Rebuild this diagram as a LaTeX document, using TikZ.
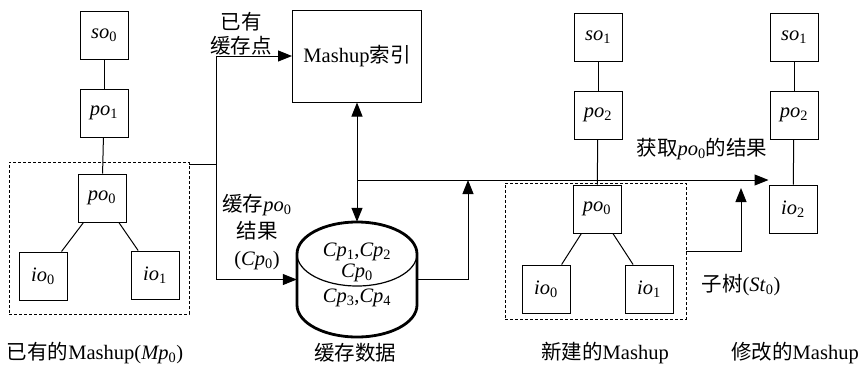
\documentclass[tikz,border=0pt]{standalone}
\usepackage{fontspec}
\setmainfont{Liberation Serif}
\newfontfamily\cjkfont{Noto Sans CJK SC}
\usetikzlibrary{arrows.meta, positioning, calc}
\newcommand{\zh}[1]{{\cjkfont #1}}
\newcommand{\pvar}[2]{\textit{#1}\textsubscript{#2}}

\begin{document}
\begin{tikzpicture}[x=1pt, y=-1pt,
  font=\fontsize{20.5}{24}\selectfont,
  obox/.style={draw, line width=1pt, minimum size=48pt, inner sep=0pt},
  group/.style={draw, dash pattern=on 3pt off 2pt, line width=0.8pt},
  arrow/.style={-{Triangle[length=14pt,width=11pt]}, line width=1pt},
  dblarrow/.style={{Triangle[length=14pt,width=11pt]}-{Triangle[length=14pt,width=11pt]}, line width=1pt},
  tree/.style={line width=1pt},
  lbl/.style={align=center, inner sep=1pt}
]
  \useasboundingbox (0,0) rectangle (862,368);

  % existing mashup
  \node[obox] (so0) at (104,35) {\pvar{so}{0}};
  \node[obox] (po1) at (104,113) {\pvar{po}{1}};
  \node[obox] (po0) at (102,198) {\pvar{po}{0}};
  \node[obox] (io0) at (43,276) {\pvar{io}{0}};
  \node[obox] (io1) at (155,275) {\pvar{io}{1}};
  \node[group, minimum width=180pt, minimum height=152pt] (mp0) at (99,238) {};
  \draw[tree] (so0) -- (po1);
  \draw[tree] (po1) -- (po0);
  \draw[tree] (po0) -- (io0);
  \draw[tree] (po0) -- (io1);

  % index and cache
  \node[draw, line width=1pt, minimum width=129pt, minimum height=92pt] (idx) at (357,56) {Mashup\zh{索引}};
  \node[minimum width=120pt, minimum height=115pt, inner sep=0pt] (cache) at (357,279.5) {};
  \draw[line width=2.8pt] (297,254) arc[start angle=180, end angle=360, x radius=60, y radius=32]
    -- (417,305) arc[start angle=0, end angle=180, x radius=60, y radius=32] -- cycle;
  \draw[line width=1.2pt] (297,254) arc[start angle=180, end angle=0, x radius=60, y radius=32];
  \node (cp12) at (357,252) {\pvar{Cp}{1},\pvar{Cp}{2}};
  \node (cp0) at (357,273) {\pvar{Cp}{0}};
  \node (cp34) at (357,298) {\pvar{Cp}{3},\pvar{Cp}{4}};

  % new mashup
  \node[obox] (so1) at (598,37) {\pvar{so}{1}};
  \node[obox] (po2) at (598,115) {\pvar{po}{2}};
  \node[obox] (npo0) at (597,209) {\pvar{po}{0}};
  \node[obox] (nio0) at (546,289) {\pvar{io}{0}};
  \node[obox] (nio1) at (649,289) {\pvar{io}{1}};
  \node[group, minimum width=181pt, minimum height=136pt] (st0) at (595.5,251) {};
  \draw[tree] (so1) -- (po2);
  \draw[tree] (po2) -- (npo0);
  \draw[tree] (npo0) -- (nio0);
  \draw[tree] (npo0) -- (nio1);

  % modified mashup
  \node[obox] (mso1) at (794,37) {\pvar{so}{1}};
  \node[obox] (mpo2) at (794,115) {\pvar{po}{2}};
  \node[obox] (io2) at (793,209) {\pvar{io}{2}};
  \draw[tree] (mso1) -- (mpo2);
  \draw[tree] (mpo2) -- (io2);

  % connectors
  \coordinate (jl) at (216,164);
  \coordinate (jm) at (357,180);
  \coordinate (jr) at (468,180);
  \coordinate (jst) at (741,188);
  \draw[line width=1pt] (mp0.east |- jl) -- (jl);
  \draw[arrow] (jl) |- (idx.west);
  \draw[arrow] (jl) |- (cache.west);
  \draw[dblarrow] (idx.south) -- (cache.north);
  \draw[arrow] (jm) -- (io2.west |- jm);
  \draw[arrow] (cache.east) -| (jr);
  \draw[arrow] (st0.east) -| (jst);

  % labels
  \node[lbl] (lhas) at (241,34) {\zh{已有}\\\zh{缓存点}};
  \node[lbl, font=\fontsize{20.5}{27}\selectfont] (lsave) at (257,232) {\zh{缓存}\pvar{po}{0}\\\zh{结果}\\(\pvar{Cp}{0})};
  \node[lbl] (lget) at (702,149) {\zh{获取}\pvar{po}{0}\zh{的结果}};
  \node[lbl] (lsub) at (741,285) {\zh{子树}(\pvar{St}{0})};

  % captions
  \node (cmp0) at (95,353) {\zh{已有的}Mashup(\pvar{Mp}{0})};
  \node (ccache) at (355,353) {\zh{缓存数据}};
  \node (cnew) at (605,353) {\zh{新建的}Mashup};
  \node (cmod) at (795,353) {\zh{修改的}Mashup};
\end{tikzpicture}
\end{document}
